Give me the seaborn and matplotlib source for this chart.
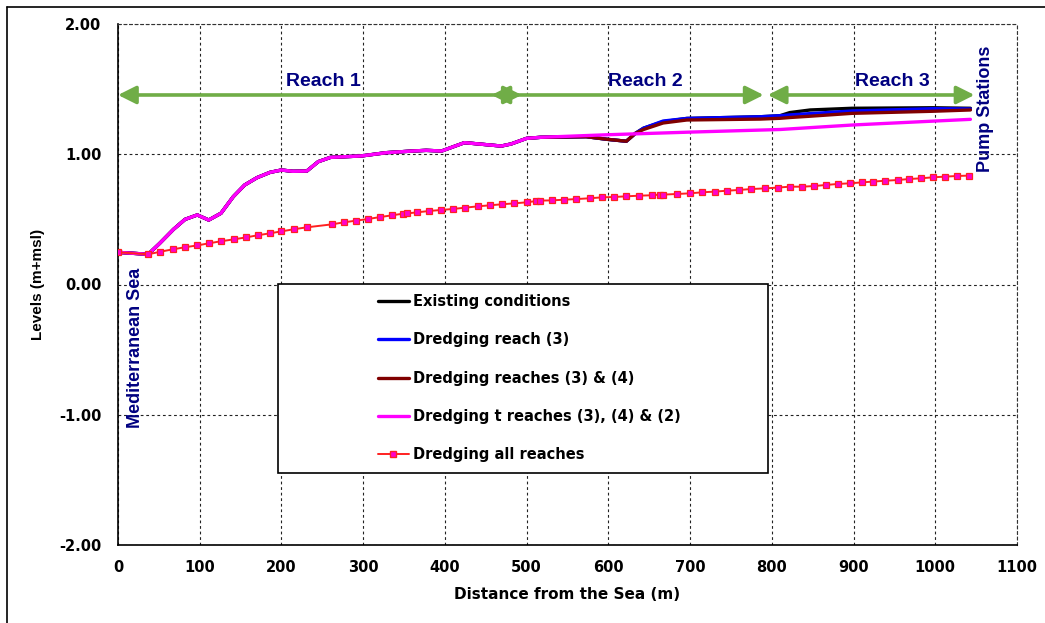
import matplotlib
matplotlib.use("Agg")
import numpy as np
import pandas as pd
import seaborn as sns
import matplotlib.pyplot as plt
from matplotlib.patches import Rectangle
from matplotlib.lines import Line2D

# ---------------- data ----------------
# water-level profiles (m+msl) along the drain, distance from the sea (m)
dist_main = [0, 37, 51, 68, 82, 97, 111, 126, 141, 155, 170, 186, 200, 214, 231,
             245, 260, 298, 328, 361, 377, 396, 424, 469, 481, 500, 517]
level_main = [0.247, 0.232, 0.316, 0.424, 0.500, 0.534, 0.495, 0.547, 0.674, 0.764,
              0.820, 0.861, 0.879, 0.869, 0.871, 0.943, 0.976, 0.987, 1.012, 1.025,
              1.030, 1.025, 1.089, 1.063, 1.079, 1.122, 1.130]

dist_upper = [573, 598, 622, 633, 643, 667, 696, 786, 810, 822, 847, 898, 997, 1043]
level_existing = [1.135, 1.115, 1.100, 1.160, 1.200, 1.250, 1.275, 1.288, 1.296,
                  1.320, 1.340, 1.353, 1.357, 1.353]
level_reach3 = [1.135, 1.115, 1.100, 1.160, 1.200, 1.255, 1.275, 1.288, 1.296,
                1.302, 1.312, 1.332, 1.350, 1.348]
level_reach34 = [1.135, 1.115, 1.100, 1.160, 1.190, 1.240, 1.263, 1.270, 1.276,
                 1.282, 1.292, 1.314, 1.330, 1.340]

dist_r342 = [600, 700, 810, 900, 1043]
level_r342 = [1.150, 1.170, 1.190, 1.225, 1.268]

dist_all = [0, 37, 52, 67, 82, 97, 111, 126, 142, 157, 171, 186, 200, 215, 231,
            262, 276, 291, 306, 321, 335, 349, 354, 366, 380, 395, 410, 425, 440,
            455, 470, 485, 500, 512, 516, 531, 546, 561, 577, 592, 607, 622, 638,
            653, 663, 667, 684, 700, 715, 730, 745, 760, 775, 792, 807, 822, 837,
            852, 866, 881, 896, 910, 924, 939, 954, 968, 982, 997, 1012, 1026, 1041]
level_all = [0.247, 0.232, 0.252, 0.270, 0.286, 0.300, 0.316, 0.332, 0.347, 0.362,
             0.378, 0.393, 0.408, 0.424, 0.439, 0.462, 0.477, 0.490, 0.503, 0.518,
             0.531, 0.544, 0.546, 0.554, 0.564, 0.572, 0.580, 0.590, 0.600, 0.608,
             0.616, 0.623, 0.631, 0.641, 0.644, 0.646, 0.651, 0.656, 0.662, 0.669,
             0.672, 0.677, 0.682, 0.685, 0.690, 0.690, 0.695, 0.700, 0.708, 0.713,
             0.720, 0.726, 0.733, 0.738, 0.744, 0.751, 0.751, 0.756, 0.764, 0.772,
             0.777, 0.784, 0.790, 0.797, 0.802, 0.810, 0.815, 0.823, 0.828, 0.833,
             0.836]

series_names = ["Existing conditions", "Dredging reach (3)", "Dredging reaches (3) & (4)",
                "Dredging t reaches (3), (4) & (2)", "Dredging all reaches"]

reach_labels = ["Reach 1", "Reach 2", "Reach 3"]
reach_starts = [0, 457, 795]
reach_ends = [494, 790, 1048]
reach_label_x = [251, 645, 948]

x_ticks = list(range(0, 1101, 100))
y_ticks = [-2.0, -1.0, 0.0, 1.0, 2.0]

# ---------------- build tables ----------------
def profile(name, xs, ys):
    return pd.DataFrame({"distance": xs, "level": ys, "series": name})

frames = {
    series_names[0]: profile(series_names[0], dist_main + dist_upper, level_main + level_existing),
    series_names[1]: profile(series_names[1], dist_main + dist_upper, level_main + level_reach3),
    series_names[2]: profile(series_names[2], dist_main + dist_upper, level_main + level_reach34),
    series_names[3]: profile(series_names[3], dist_main + dist_r342, level_main + level_r342),
    series_names[4]: profile(series_names[4], dist_all, level_all),
}

# ---------------- style ----------------
sns.set_style("white")
plt.rcParams["font.family"] = ["DejaVu Sans"]
plt.rcParams["font.weight"] = "bold"
plt.rcParams["text.color"] = "black"
plt.rcParams["axes.labelcolor"] = "black"
plt.rcParams["xtick.color"] = "black"
plt.rcParams["ytick.color"] = "black"
WIDE = ["DejaVu Sans"]
NARROW = ["Liberation Sans", "DejaVu Sans"]

fig = plt.figure(figsize=(10.45, 6.23), dpi=100)
ax = fig.add_axes([118 / 1045, 1 - 545 / 623, (1017 - 118) / 1045, (545 - 24) / 623])

line_styles = {
    series_names[0]: dict(color="black", lw=2.4),
    series_names[1]: dict(color="#0000FF", lw=2.4),
    series_names[2]: dict(color="#800000", lw=2.4),
    series_names[3]: dict(color="#FF00FF", lw=2.4),
}
for i, name in enumerate(series_names[:4]):
    sns.lineplot(data=frames[name], x="distance", y="level", ax=ax, sort=False,
                 estimator=None, zorder=3 + i, **line_styles[name])

sns.lineplot(data=frames[series_names[4]], x="distance", y="level", ax=ax, sort=False,
             estimator=None, color="#FF2020", lw=1.4, marker="s", markersize=4.4,
             markerfacecolor="#FF00CC", markeredgecolor="#FF2020", markeredgewidth=0.9,
             zorder=8)

ax.set_xlim(0, 1100)
ax.set_ylim(-2, 2)
ax.set_xticks(x_ticks)
ax.set_yticks(y_ticks)
ax.set_xticklabels([str(v) for v in x_ticks], fontsize=10.5, fontweight="bold", family=WIDE)
ax.set_yticklabels([f"{v:.2f}" for v in y_ticks], fontsize=10.5, fontweight="bold", family=WIDE)
ax.tick_params(axis="both", direction="out", length=6, width=1, color="#444444",
               labelcolor="black")
ax.tick_params(axis="y", pad=6)
ax.tick_params(axis="x", pad=5)

ax.grid(True, color="#222222", linestyle=(0, (2.5, 2.5)), linewidth=0.8, zorder=0)
ax.set_axisbelow(True)
for side in ["left", "bottom"]:
    ax.spines[side].set_color("black")
    ax.spines[side].set_linewidth(1.2)
for side in ["top", "right"]:
    ax.spines[side].set_color("#333333")
    ax.spines[side].set_linewidth(0.8)
    ax.spines[side].set_linestyle((0, (2.5, 2.5)))

ax.set_xlabel("Distance from the Sea (m)", fontsize=11, fontweight="bold", family=WIDE,
              color="black")
ax.set_ylabel("Levels (m+msl)", fontsize=11, fontweight="bold", family=NARROW,
              color="black")
ax.xaxis.set_label_coords(0.5, -0.081)
ax.yaxis.set_label_coords(-0.081, 0.5)

# reach extents
arrow_y = 1.455
for lab, x0, x1, xl in zip(reach_labels, reach_starts, reach_ends, reach_label_x):
    ax.annotate("", xy=(x1, arrow_y), xytext=(x0, arrow_y),
                arrowprops=dict(arrowstyle="<|-|>", color="#70AD47", lw=2.6,
                                mutation_scale=27, shrinkA=0, shrinkB=0),
                zorder=9)
    ax.text(xl, 1.56, lab, color="#000080", fontsize=14, fontweight="bold",
            family=NARROW, ha="center", va="center", zorder=9)

ax.text(21, -0.49, "Mediterranean Sea", rotation=90, color="#000080", fontsize=13,
        fontweight="bold", family=NARROW, ha="center", va="center", zorder=9)
ax.text(1061, 1.347, "Pump Stations", rotation=90, color="#000080", fontsize=13,
        fontweight="bold", family=NARROW, ha="center", va="center", zorder=9,
        clip_on=False)

# legend panel
ax.add_patch(Rectangle((0.178, 0.138), 0.545, 0.363, transform=ax.transAxes,
                       facecolor="white", edgecolor="black", lw=1.2, zorder=10))
handles = [
    Line2D([], [], color="black", lw=2.4),
    Line2D([], [], color="#0000FF", lw=2.4),
    Line2D([], [], color="#800000", lw=2.4),
    Line2D([], [], color="#FF00FF", lw=2.4),
    Line2D([], [], color="#FF2020", lw=1.4, marker="s", markersize=4.4,
           markerfacecolor="#FF00CC", markeredgecolor="#FF2020"),
]
leg = ax.legend(handles, series_names, loc="upper left",
                bbox_to_anchor=((378 - 118) / 899, (545 - 294) / 521),
                frameon=False, borderpad=0, borderaxespad=0, handlelength=2.1,
                handletextpad=0.3, labelspacing=1.6, numpoints=1,
                prop={"size": 10.5, "weight": "bold", "family": WIDE})
for t in leg.get_texts():
    t.set_color("black")
leg.set_zorder(11)

# outer frame of the figure
fig.add_artist(Line2D([7 / 1045, 7 / 1045], [0, 1 - 7 / 623], transform=fig.transFigure,
                      color="black", lw=1.2))
fig.add_artist(Line2D([7 / 1045, 1], [1 - 7 / 623, 1 - 7 / 623], transform=fig.transFigure,
                      color="black", lw=1.2))

fig.savefig("out.png", dpi=100)
